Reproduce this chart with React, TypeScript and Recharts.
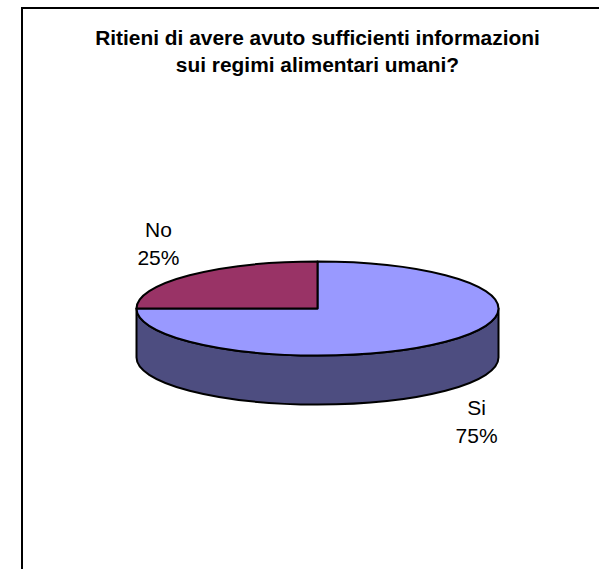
import React from 'react'
import { PieChart, Pie, Cell } from 'recharts'

const categories = ['Si', 'No']
const values = [75, 25]
const topColors = ['#9999FF', '#993366']
const wallColor = '#4D4D80'
const titleLines = ['Ritieni di avere avuto sufficienti informazioni', 'sui regimi alimentari umani?']

const data = categories.map((name, i) => ({ name, value: values[i] }))

const CX = 317.5
const CY = 308.5
const RX = 181
const RY = 47
const DEPTH = 49
const FONT = '"Liberation Sans", Arial, sans-serif'

const rad = (a: number) => (a * Math.PI) / 180
const ptX = (a: number) => CX + RX * Math.cos(rad(a))
const ptY = (a: number) => CY - RY * Math.sin(rad(a))

// top face, the pie squashed to an ellipse
function TopSlice(props: any) {
  const { startAngle, endAngle, fill } = props
  const large = Math.abs(endAngle - startAngle) > 180 ? 1 : 0
  const d = `M${CX},${CY} L${ptX(startAngle)},${ptY(startAngle)} A${RX},${RY} 0 ${large} 1 ${ptX(endAngle)},${ptY(endAngle)} Z`
  return <path d={d} fill={fill} stroke="#000" strokeWidth={2} strokeLinejoin="round" />
}

// side wall, only the part of a slice on the front half of the pie
function WallSlice(props: any) {
  const from = Math.min(props.startAngle, 0)
  const to = Math.max(props.endAngle, -180)
  if (from <= to) return null
  const d = `M${ptX(from)},${ptY(from)} A${RX},${RY} 0 0 1 ${ptX(to)},${ptY(to)} L${ptX(to)},${ptY(to) + DEPTH} A${RX},${RY} 0 0 0 ${ptX(from)},${ptY(from) + DEPTH} Z`
  return <path d={d} fill={wallColor} stroke="#000" strokeWidth={2} strokeLinejoin="round" />
}

function SliceLabel(props: any) {
  const { midAngle, name, percent } = props
  const front = Math.sin(rad(midAngle)) < 0
  const x = CX + 225 * Math.cos(rad(midAngle))
  const y = CY - 92 * Math.sin(rad(midAngle)) + (front ? DEPTH - 1.5 : 0)
  return (
    <text x={x} y={y} textAnchor="middle" fontFamily={FONT} fontSize={21} fill="#000">
      <tspan x={x} dy={-6}>{name}</tspan>
      <tspan x={x} dy={27.5}>{`${Math.round(percent * 100)}%`}</tspan>
    </text>
  )
}

export default function App() {
  return (
    <div style={{ position: 'absolute', left: 0, top: 0, width: 599, height: 569, overflow: 'hidden', background: '#fff' }}>
      <div style={{ position: 'absolute', left: 21, top: 7, width: 600, height: 600, borderLeft: '2px solid #000', borderTop: '2px solid #000' }} />
      <div style={{ position: 'absolute', left: 0, top: 0 }}>
        <PieChart width={599} height={569} margin={{ top: 0, right: 0, bottom: 0, left: 0 }}>
          <text x={317.5} y={45} textAnchor="middle" fontFamily={FONT} fontSize={20.9} fontWeight="bold" fill="#000">
            <tspan x={317.5}>{titleLines[0]}</tspan>
            <tspan x={317.5} dy={27}>{titleLines[1]}</tspan>
          </text>
          <Pie
            data={data}
            dataKey="value"
            nameKey="name"
            cx={CX}
            cy={CY}
            outerRadius={RX}
            startAngle={90}
            endAngle={-270}
            shape={WallSlice}
            isAnimationActive={false}
            legendType="none"
          />
          <Pie
            data={data}
            dataKey="value"
            nameKey="name"
            cx={CX}
            cy={CY}
            outerRadius={RX}
            startAngle={90}
            endAngle={-270}
            shape={TopSlice}
            label={SliceLabel}
            labelLine={false}
            isAnimationActive={false}
            legendType="none"
          >
            {data.map((d, i) => (
              <Cell key={d.name} fill={topColors[i]} />
            ))}
          </Pie>
        </PieChart>
      </div>
    </div>
  )
}
